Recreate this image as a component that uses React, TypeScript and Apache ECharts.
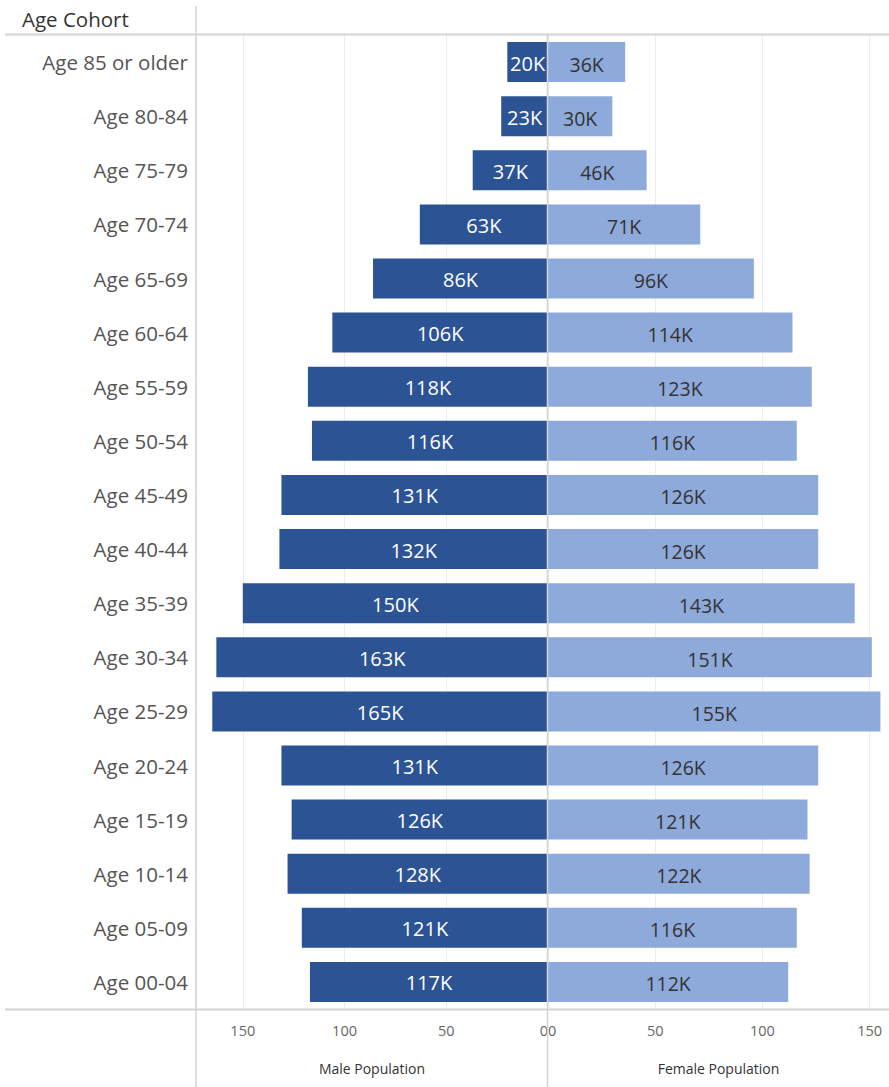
import React, { useEffect, useRef } from "react";
import * as echarts from "echarts";

const categories = [
  "Age 85 or older", "Age 80-84", "Age 75-79", "Age 70-74", "Age 65-69", "Age 60-64",
  "Age 55-59", "Age 50-54", "Age 45-49", "Age 40-44", "Age 35-39", "Age 30-34",
  "Age 25-29", "Age 20-24", "Age 15-19", "Age 10-14", "Age 05-09", "Age 00-04",
];
const male = [20, 23, 37, 63, 86, 106, 118, 116, 131, 132, 150, 163, 165, 131, 126, 128, 121, 117];
const female = [36, 30, 46, 71, 96, 114, 123, 116, 126, 126, 143, 151, 155, 126, 121, 122, 116, 112];
const headerTitle = "Age Cohort";
const maleTitle = "Male Population";
const femaleTitle = "Female Population";

const FONT = "'Open Sans', 'Noto Sans', sans-serif";

export default function App() {
  const ref = useRef<HTMLDivElement>(null);
  useEffect(() => {
    const chart = echarts.init(ref.current!, undefined, { renderer: "svg" });
    const gridTop = 35;
    const gridBottomY = 1009;
    const splitColor = "#ececec";
    const lineColor = "#d4d4d4";
    const xBase = (gridIndex: number, inverse: boolean, max: number, name: string) => ({
      type: "value" as const,
      gridIndex,
      inverse,
      min: 0,
      max,
      interval: 50,
      name,
      nameLocation: "middle" as const,
      nameGap: 52,
      nameTextStyle: { fontFamily: FONT, fontSize: 14, color: "#333" },
      axisLine: { show: false },
      axisTick: { show: false },
      splitLine: { show: true, lineStyle: { color: splitColor, width: 1 } },
      axisLabel: {
        fontFamily: FONT,
        fontSize: 14.5,
        color: "#666",
        margin: 14,
        showMaxLabel: false,
        alignMinLabel: inverse ? ("right" as const) : ("left" as const),
      },
    });
    chart.setOption({
      animation: false,
      grid: [
        { left: 196, top: gridTop, width: 352, height: gridBottomY - gridTop },
        { left: 548, top: gridTop, width: 341, height: gridBottomY - gridTop },
      ],
      xAxis: [xBase(0, true, 173, maleTitle), xBase(1, false, 159, femaleTitle)],
      yAxis: [
        {
          type: "category",
          gridIndex: 0,
          data: categories,
          inverse: true,
          position: "left",
          axisLine: { show: false },
          axisTick: { show: false },
          axisLabel: { fontFamily: FONT, fontSize: 20.5, color: "#555", margin: 8 },
        },
        {
          type: "category",
          gridIndex: 1,
          data: categories,
          inverse: true,
          axisLine: { show: false },
          axisTick: { show: false },
          axisLabel: { show: false },
        },
      ],
      series: [
        {
          type: "bar",
          xAxisIndex: 0,
          yAxisIndex: 0,
          data: male,
          barWidth: 40,
          itemStyle: { color: "#2c5494" },
          label: {
            show: true,
            position: "inside",
            formatter: (p: any) => `${p.value}K`,
            color: "#ffffff",
            fontFamily: FONT,
            fontSize: 20,
            offset: [0, 1],
          },
        },
        {
          type: "bar",
          xAxisIndex: 1,
          yAxisIndex: 1,
          data: female,
          barWidth: 40,
          itemStyle: { color: "#8eaadb" },
          label: {
            show: true,
            position: "inside",
            formatter: (p: any) => `${p.value}K`,
            color: "#333333",
            fontFamily: FONT,
            fontSize: 19.5,
            offset: [0, 2],
          },
        },
      ],
      graphic: [
        { type: "line", shape: { x1: 5, y1: 34.5, x2: 889, y2: 34.5 }, style: { stroke: lineColor, lineWidth: 2 }, z: 10 },
        { type: "line", shape: { x1: 5, y1: gridBottomY + 0.5, x2: 889, y2: gridBottomY + 0.5 }, style: { stroke: lineColor, lineWidth: 2 }, z: 10 },
        { type: "line", shape: { x1: 196, y1: 6, x2: 196, y2: 1087 }, style: { stroke: lineColor, lineWidth: 1.5 }, z: 10 },
        { type: "line", shape: { x1: 547.5, y1: 35, x2: 547.5, y2: 1087 }, style: { stroke: lineColor, lineWidth: 1.5 }, z: 10 },
        {
          type: "text",
          left: 22,
          top: 8,
          style: { text: headerTitle, fontFamily: FONT, fontSize: 20.5, fill: "#333" },
        },
      ],
    });
    return () => chart.dispose();
  }, []);
  return (
    <div
      ref={ref}
      style={{ position: "absolute", left: 0, top: 0, width: 889, height: 1087, background: "#fff" }}
    />
  );
}
